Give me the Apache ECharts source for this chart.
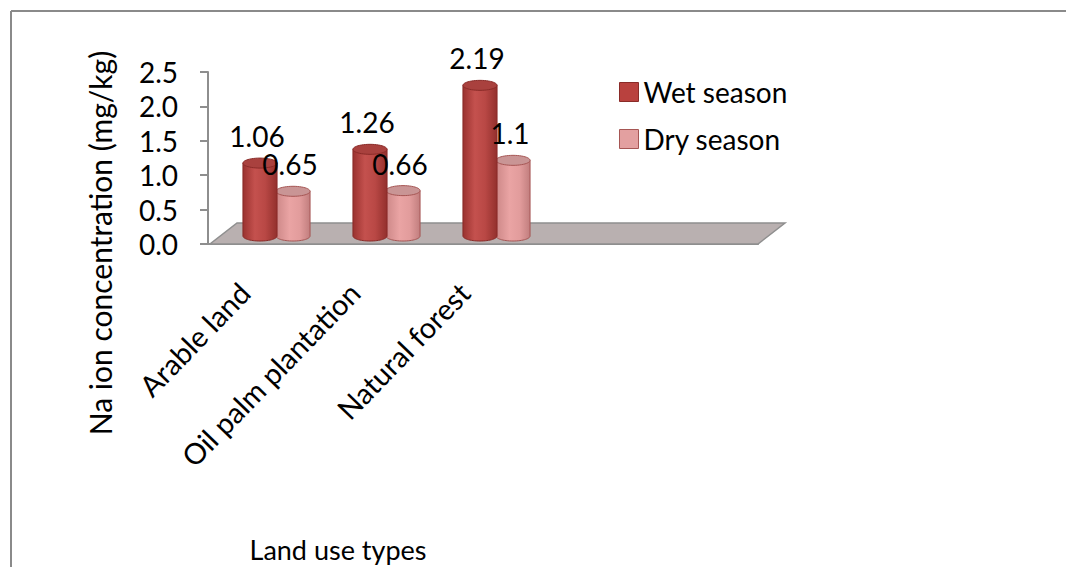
<!DOCTYPE html>
<html>
<head>
<meta charset="utf-8">
<script src="https://cdn.jsdelivr.net/npm/echarts@6/dist/echarts.min.js"></script>
<style>
  html, body { margin: 0; padding: 0; background: #fff; }
  #chart { width: 1066px; height: 567px; }
</style>
</head>
<body>
<div id="chart"></div>
<script>
// Land use categories (two trailing empty slots on the axis)
const categories = ['Arable land', 'Oil palm plantation', 'Natural forest', '', ''];
// Na ion concentration (mg/kg)
const wetSeason = [1.06, 1.26, 2.19];
const drySeason = [0.65, 0.66, 1.1];
const yTicks = { min: 0, max: 2.5, interval: 0.5 };

const FONT = 'Lato';
const FS = 28;
// Pseudo-3D depth of the floor
const DEPTH_X = 27, DEPTH_Y = -21;

function ellipsePts(cx, cy, rx, ry, a0, a1, n) {
  const pts = [];
  for (let k = 0; k <= n; k++) {
    const a = a0 + (a1 - a0) * k / n;
    pts.push([cx + rx * Math.cos(a), cy + ry * Math.sin(a)]);
  }
  return pts;
}

// Draws one cylinder standing on the floor, with its value written above it
function cylinderRenderer(offsetFrac, look, layer) {
  return function (params, api) {
    const cat = api.value(0), v = api.value(1);
    const base = api.coord([cat, 0]);
    const top = api.coord([cat, v]);
    const band = api.size([1, 0])[0];
    const cx = base[0] + DEPTH_X / 2 + offsetFrac * band;
    const r = band * 0.155;
    const ry = 5;
    const by = base[1] + DEPTH_Y * 0.38;
    const ty = top[1] + DEPTH_Y * 0.38;
    const body = [[cx - r, ty], [cx - r, by]]
      .concat(ellipsePts(cx, by, r, ry, Math.PI, 0, 30))
      .concat([[cx + r, ty]]);
    const cap = ellipsePts(cx, ty, r, ry, 0, Math.PI * 2, 48);
    return {
      type: 'group',
      children: [
        {
          type: 'polygon',
          z2: layer,
          shape: { points: body },
          style: {
            fill: new echarts.graphic.LinearGradient(0, 0, 1, 0, look.body),
            stroke: look.stroke, lineWidth: 1
          }
        },
        {
          type: 'polygon',
          z2: layer + 1,
          shape: { points: cap },
          style: { fill: look.cap, stroke: look.stroke, lineWidth: 1 }
        },
        {
          type: 'text',
          z2: 100,
          style: {
            text: String(v),
            x: cx - 3, y: ty - 27,
            align: 'center', verticalAlign: 'middle',
            fontFamily: FONT, fontSize: FS, fill: '#000'
          }
        }
      ]
    };
  };
}

const wetLook = {
  body: [
    { offset: 0, color: '#9A322F' },
    { offset: 0.35, color: '#C4514E' },
    { offset: 0.65, color: '#B94845' },
    { offset: 1, color: '#93302D' }
  ],
  cap: '#A9413E',
  stroke: '#8A2B28'
};
const dryLook = {
  body: [
    { offset: 0, color: '#CC8787' },
    { offset: 0.4, color: '#EAA4A4' },
    { offset: 0.7, color: '#E29C9C' },
    { offset: 1, color: '#C17E7E' }
  ],
  cap: '#C99595',
  stroke: '#A65654'
};

const chart = echarts.init(document.getElementById('chart'), null, { renderer: 'svg' });

chart.setOption({
  animation: false,
  backgroundColor: '#fff',
  grid: { left: 208, right: 308, top: 72, bottom: 323 },
  legend: {
    orient: 'vertical',
    left: 619, top: 78, padding: 0,
    itemWidth: 19, itemHeight: 19, itemGap: 19,
    icon: 'rect',
    textStyle: { fontFamily: FONT, fontSize: FS, lineHeight: 28, color: '#000' },
    data: [
      { name: 'Wet season', itemStyle: { color: '#B9413E', borderColor: '#8A2B28', borderWidth: 1 } },
      { name: 'Dry season', itemStyle: { color: '#E3A0A0', borderColor: '#A65654', borderWidth: 1 } }
    ]
  },
  xAxis: {
    type: 'category',
    data: categories,
    axisLine: { lineStyle: { color: '#8E8E8E', width: 2 } },
    axisTick: { length: 10, interval: 0, lineStyle: { color: '#8E8E8E', width: 2 } },
    axisLabel: {
      interval: 0, rotate: 46, margin: 24, padding: [0, 27, 0, 0],
      fontFamily: FONT, fontSize: 29, color: '#000'
    }
  },
  yAxis: {
    type: 'value',
    min: yTicks.min, max: yTicks.max, interval: yTicks.interval,
    splitLine: { show: false },
    axisLine: { show: true, lineStyle: { color: '#8E8E8E', width: 2 } },
    axisTick: { show: true, length: 8, lineStyle: { color: '#8E8E8E', width: 2 } },
    axisLabel: {
      margin: 30,
      formatter: v => v.toFixed(1),
      fontFamily: FONT, fontSize: FS, color: '#000'
    }
  },
  graphic: [
    { type: 'line', shape: { x1: 11, y1: 11, x2: 1066, y2: 11 }, style: { stroke: '#8A8A8A', lineWidth: 2 } },
    { type: 'line', shape: { x1: 11, y1: 11, x2: 11, y2: 567 }, style: { stroke: '#8A8A8A', lineWidth: 2 } },
    {
      type: 'text', x: 100, y: 243, rotation: Math.PI / 2,
      style: {
        text: 'Na ion concentration (mg/kg)', align: 'center', verticalAlign: 'middle',
        fontFamily: FONT, fontSize: 30, fill: '#000'
      }
    },
    {
      type: 'text', x: 338, y: 549,
      style: {
        text: 'Land use types', align: 'center', verticalAlign: 'middle',
        fontFamily: FONT, fontSize: 27, fill: '#000'
      }
    }
  ],
  series: [
    {
      name: 'floor',
      type: 'custom',
      silent: true,
      z: 1,
      data: [[0, 0]],
      renderItem: function (params, api) {
        const cs = params.coordSys;
        const fy = cs.y + cs.height;
        const x0 = cs.x + 2, x1 = cs.x + cs.width;
        return {
          type: 'polygon',
          shape: { points: [[x0, fy], [x1, fy], [x1 + DEPTH_X, fy + DEPTH_Y], [x0 + DEPTH_X, fy + DEPTH_Y]] },
          style: { fill: '#B9B0B0', stroke: '#8F8F8F', lineWidth: 1.5 }
        };
      }
    },
    {
      name: 'Wet season',
      type: 'custom',
      z: 2,
      itemStyle: { color: '#B9413E' },
      data: wetSeason.map((v, i) => [i, v]),
      renderItem: cylinderRenderer(-0.15, wetLook, 10)
    },
    {
      name: 'Dry season',
      type: 'custom',
      z: 2,
      itemStyle: { color: '#E3A0A0' },
      data: drySeason.map((v, i) => [i, v]),
      renderItem: cylinderRenderer(0.15, dryLook, 5)
    }
  ]
});
</script>
</body>
</html>
